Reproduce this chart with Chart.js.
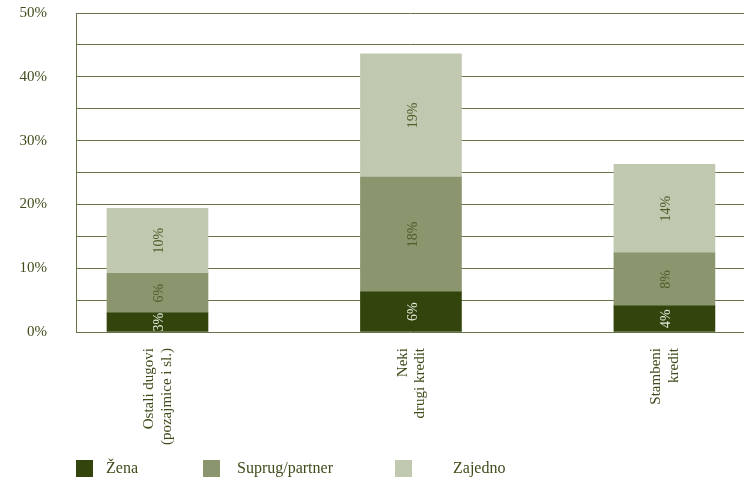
<!DOCTYPE html>
<html>
<head>
<meta charset="utf-8">
<script src="https://cdn.jsdelivr.net/npm/chart.js@4/dist/chart.umd.min.js"></script>
<style>
  html, body { margin: 0; padding: 0; background: #ffffff; }
  canvas { display: block; }
</style>
</head>
<body>
<canvas id="c" width="744" height="479"></canvas>
<script>
const categories = [
  ['Ostali dugovi', '(pozajmice i sl.)'],
  ['Neki', 'drugi kredit'],
  ['Stambeni', 'kredit']
];
const seriesNames = ['Žena', 'Suprug/partner', 'Zajedno'];
const zena = [3.0, 6.3, 4.1];
const suprug = [6.2, 18.0, 8.3];
const zajedno = [10.2, 19.3, 13.9];
const yTickValues = [0, 10, 20, 30, 40, 50];

const colors = ['#33450d', '#8b966f', '#c1c8b0'];
const labelColors = ['#e6eadc', '#4f5e2a', '#4f5e2a'];
const textColor = '#3e4c1b';
const gridColor = '#66744a';
const FONT = '"Liberation Serif", "Times New Roman", serif';

function toPoints(arr) { return arr.map((v, i) => ({ x: i, y: v })); }
const seriesData = [zena, suprug, zajedno];

const barLabels = {
  id: 'barLabels',
  afterDatasetsDraw(chart) {
    const ctx = chart.ctx;
    ctx.save();
    ctx.font = '14px ' + FONT;
    ctx.textAlign = 'center';
    ctx.textBaseline = 'middle';
    chart.data.datasets.forEach((ds, di) => {
      const meta = chart.getDatasetMeta(di);
      meta.data.forEach((el, i) => {
        const v = seriesData[di][i];
        const cx = el.x + 2;
        const cy = (el.y + el.base) / 2;
        ctx.save();
        ctx.translate(cx, cy);
        ctx.rotate(-Math.PI / 2);
        ctx.fillStyle = labelColors[di];
        ctx.fillText(Math.round(v) + '%', 0, 0);
        ctx.restore();
      });
    });
    ctx.restore();
  }
};

const customLegend = {
  id: 'customLegend',
  afterDraw(chart) {
    const ctx = chart.ctx;
    const boxX = [76, 203, 395];
    const textX = [106, 237, 453];
    ctx.save();
    ctx.font = '16px ' + FONT;
    ctx.textBaseline = 'middle';
    ctx.textAlign = 'left';
    seriesNames.forEach((name, i) => {
      ctx.fillStyle = colors[i];
      ctx.fillRect(boxX[i], 460, 17, 17);
      ctx.fillStyle = textColor;
      ctx.fillText(name, textX[i], 469);
    });
    ctx.restore();
  }
};

new Chart(document.getElementById('c'), {
  type: 'bar',
  data: {
    datasets: seriesNames.map((name, i) => ({
      label: name,
      data: toPoints(seriesData[i]),
      backgroundColor: colors[i],
      borderWidth: 0,
      barThickness: 101
    }))
  },
  options: {
    responsive: false,
    devicePixelRatio: 1,
    animation: false,
    layout: { padding: { top: 13, right: 0, left: 0, bottom: 0 } },
    plugins: {
      legend: { display: false },
      tooltip: { enabled: false }
    },
    scales: {
      x: {
        type: 'linear',
        stacked: true,
        offset: false,
        min: -0.3215,
        max: 2.314,
        afterBuildTicks(scale) {
          scale.ticks = categories.map((c, i) => ({ value: i }));
        },
        afterFit(scale) {
          scale.height = 147;
          scale.paddingLeft = 0; scale.paddingRight = 0;
        },
        grid: { display: false, drawTicks: false, offset: false },
        border: { display: false },
        ticks: {
          autoSkip: false,
          minRotation: 90,
          maxRotation: 90,
          padding: 16,
          labelOffset: -8,
          color: textColor,
          font: { family: FONT, size: 15, lineHeight: 1.15 },
          callback(value) { return categories[value] || ''; }
        }
      },
      y: {
        stacked: true,
        min: 0,
        max: 50,
        afterBuildTicks(scale) {
          const t = [];
          for (let v = 0; v <= 50; v += 5) t.push({ value: v });
          scale.ticks = t;
        },
        afterFit(scale) {
          scale.width = 76;
          scale.paddingTop = 0; scale.paddingBottom = 0;
        },
        grid: { color: gridColor, lineWidth: 1, drawTicks: false },
        border: { display: true, color: gridColor, width: 1 },
        ticks: {
          padding: 29,
          color: textColor,
          font: { family: FONT, size: 15 },
          callback(value) { return yTickValues.includes(value) ? value + '%' : ''; }
        }
      }
    }
  },
  plugins: [barLabels, customLegend]
});
</script>
</body>
</html>
